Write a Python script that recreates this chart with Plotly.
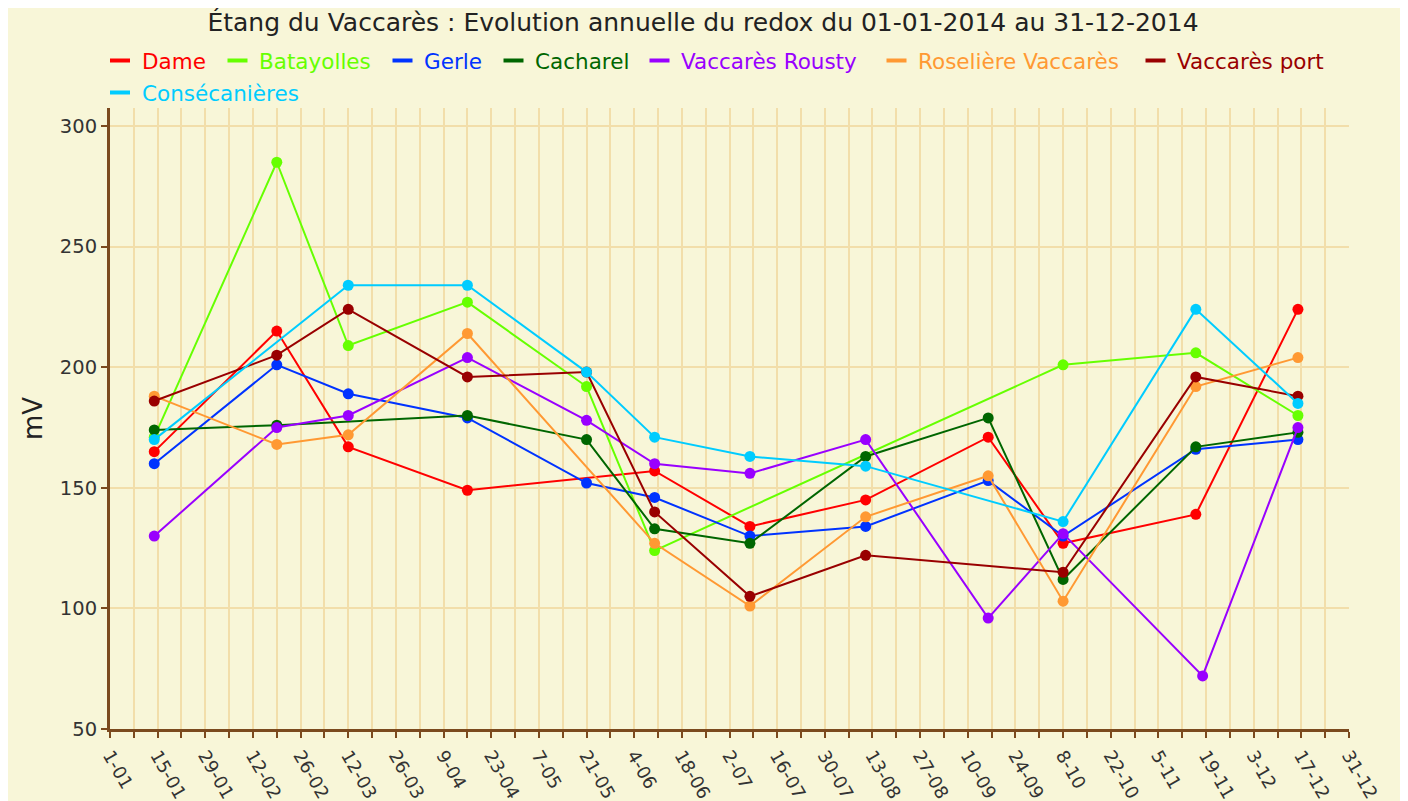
import plotly.graph_objects as go

# sampling dates (Vaccarès Rousty was sampled on 18-11 instead of 16-11)
dates = ["2014-01-14", "2014-02-19", "2014-03-12", "2014-04-16", "2014-05-21",
         "2014-06-10", "2014-07-08", "2014-08-11", "2014-09-16", "2014-10-08",
         "2014-11-16", "2014-11-18", "2014-12-16"]

dame = [165, 215, 167, 149, None, 157, 134, 145, 171, 127, 139, None, 224]
batayolles = [171, 285, 209, 227, 192, 124, None, None, None, 201, 206, None, 180]
gerle = [160, 201, 189, 179, 152, 146, 130, 134, 153, 130, 166, None, 170]
cacharel = [174, 176, None, 180, 170, 133, 127, 163, 179, 112, 167, None, 173]
rousty = [130, 175, 180, 204, 178, 160, 156, 170, 96, 131, None, 72, 175]
roseliere = [188, 168, 172, 214, None, 127, 101, 138, 155, 103, 192, None, 204]
port = [186, 205, 224, 196, 198, 140, 105, 122, None, 115, 196, None, 188]
consecanieres = [170, None, 234, 234, 198, 171, 163, 159, None, 136, 224, None, 185]

names = ["Dame", "Batayolles", "Gerle", "Cacharel", "Vaccarès Rousty",
         "Roselière Vaccarès", "Vaccarès port", "Consécanières"]
values = [dame, batayolles, gerle, cacharel, rousty, roseliere, port, consecanieres]
colors = ["#FF0000", "#66FF00", "#0033FF", "#006600", "#9900FF",
          "#FF9933", "#990000", "#00CCFF"]

# hand-placed legend: x of each label on the page, and its row
leg_text_x = [139.5, 257, 422, 533, 679, 916, 1175, 139.5]
leg_row = [0, 0, 0, 0, 0, 0, 0, 1]

bg = "#F8F6D8"
grid = "#F2DEAA"
brown = "#7B4A1E"
OFF = 8  # page body margin
W, H = 1400, 793
L, T = 110 - OFF, 108 - OFF
R, B = W - (1349 - OFF), H - (729 - OFF)
pw, ph = W - L - R, H - T - B


def px2x(px):
    return (px - OFF - L) / pw


def py2y(py):
    return (H - B - (py - OFF)) / ph


fig = go.Figure()
for name, vals, col in zip(names, values, colors):
    fig.add_trace(go.Scatter(
        x=dates, y=vals, name=name, mode="lines+markers", connectgaps=True,
        line=dict(color=col, width=2), marker=dict(color=col, size=11),
        showlegend=False))

for name, col, tx, row in zip(names, colors, leg_text_x, leg_row):
    ty = 62 + row * 32
    fig.add_shape(type="line", xref="paper", yref="paper",
                  x0=px2x(tx - 29.5), x1=px2x(tx - 9.5), y0=py2y(ty - 1.5), y1=py2y(ty - 1.5),
                  line=dict(color=col, width=4))
    fig.add_annotation(
        x=px2x(tx), y=py2y(ty), xref="paper", yref="paper",
        xanchor="left", yanchor="middle", showarrow=False,
        text=name, font=dict(family="DejaVu Sans", size=21.5, color=col))

day = 86400000
fig.update_layout(
    width=W, height=H,
    margin=dict(l=L, r=R, t=T, b=B),
    paper_bgcolor=bg, plot_bgcolor=bg,
    font=dict(family="DejaVu Sans", color="#333"),
    title=dict(text="Étang du Vaccarès : Evolution annuelle du redox du 01-01-2014 au 31-12-2014",
               x=(703 - OFF) / W, xanchor="center", y=1 - (22 - OFF) / H, yanchor="middle",
               font=dict(family="DejaVu Sans", size=25, color="#222")),
    xaxis=dict(
        type="date", range=["2014-01-01", "2014-12-31"],
        tick0="2014-01-01", dtick=14 * day, tickformat="%-d-%m", tickangle=60,
        ticks="outside", ticklen=6, tickwidth=2, tickcolor=brown,
        tickfont=dict(size=18, color="#333"),
        showgrid=True, gridcolor=grid, gridwidth=2,
        showline=True, linecolor=brown, linewidth=3, zeroline=False,
        minor=dict(tick0="2014-01-01", dtick=7 * day, ticks="outside", ticklen=6,
                   tickwidth=2, tickcolor=brown, showgrid=True, gridcolor=grid, gridwidth=2),
        automargin=False),
    yaxis=dict(
        range=[50, 307.5], tick0=50, dtick=50,
        ticks="outside", ticklen=6, tickwidth=2, tickcolor=brown,
        tickfont=dict(size=19.5, color="#333"),
        showgrid=True, gridcolor=grid, gridwidth=2,
        showline=True, linecolor=brown, linewidth=3, zeroline=False,
        title=dict(text="mV", font=dict(size=26, color="#222"), standoff=10),
        automargin=False),
)

fig.write_html("out.html")
